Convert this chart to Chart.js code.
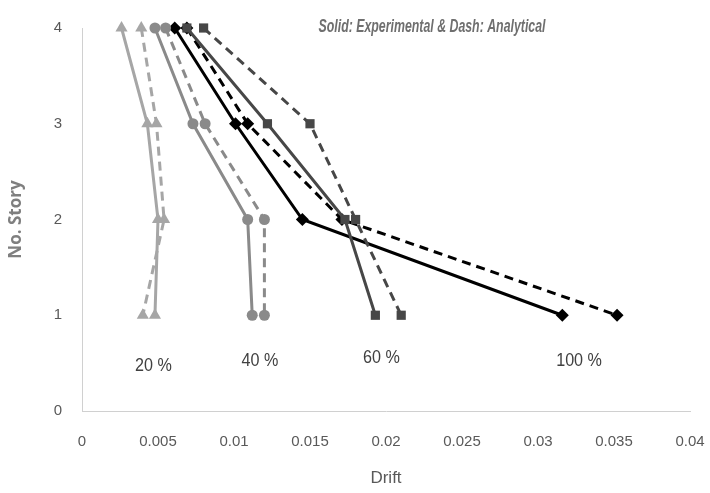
<!doctype html>
<html lang="en">
<head>
<meta charset="utf-8">
<title>Drift vs Story</title>
<script src="https://cdn.jsdelivr.net/npm/chart.js@4.4.0/dist/chart.umd.min.js"></script>
<style>
  html, body { margin: 0; padding: 0; background: #fff; }
  #wrap { width: 710px; height: 493px; }
</style>
</head>
<body>
<div id="wrap"><canvas id="myChart" width="710" height="493"></canvas></div>
<script>
// story levels and drift values
const stories = [4, 3, 2, 1];
const exp20 = [0.0026, 0.0043, 0.0050, 0.0048];
const ana20 = [0.0039, 0.0049, 0.0054, 0.0040];
const exp40 = [0.0048, 0.0073, 0.0109, 0.0112];
const ana40 = [0.0055, 0.0081, 0.0120, 0.0120];
const exp60 = [0.0069, 0.0122, 0.0173, 0.0193];
const ana60 = [0.0080, 0.0150, 0.0180, 0.0210];
const exp100 = [0.0061, 0.0101, 0.0145, 0.0316];
const ana100 = [0.0069, 0.0109, 0.0171, 0.0352];
const xTicks = [0, 0.005, 0.01, 0.015, 0.02, 0.025, 0.03, 0.035, 0.04];
const yTicks = [0, 1, 2, 3, 4];
// label text and where it sits (drift, story)
const levelLabels = ['20 %', '40 %', '60 %', '100 %'];
const labelX = [0.0047, 0.0117, 0.0197, 0.0327];
const labelY = [0.47, 0.52, 0.56, 0.52];
const noteText = 'Solid: Experimental & Dash: Analytical';

const FONT = "'Liberation Sans', sans-serif";

function pts(xs) {
  return xs.map((x, i) => ({ x: x, y: stories[i] }));
}
function series(xs, color, shape, dashed, r) {
  return {
    data: pts(xs),
    showLine: true,
    clip: false,
    borderColor: color,
    backgroundColor: color,
    borderWidth: 3,
    borderDash: dashed ? [9, 6] : [],
    pointStyle: shape,
    pointRadius: r,
    pointBorderWidth: 0,
    pointHoverRadius: r
  };
}

// squeeze a text horizontally
function narrowText(ctx, t, x, y, k) {
  ctx.save();
  ctx.translate(x, y);
  ctx.scale(k, 1);
  ctx.fillText(t, 0, 0);
  ctx.restore();
}

const textPlugin = {
  id: 'texts',
  afterDraw(chart) {
    const ctx = chart.ctx;
    const xs = chart.scales.x, ys = chart.scales.y;
    ctx.save();
    ctx.fillStyle = '#404040';
    ctx.font = "19px " + FONT;
    ctx.textAlign = 'center';
    ctx.textBaseline = 'middle';
    levelLabels.forEach((t, i) => {
      narrowText(ctx, t, xs.getPixelForValue(labelX[i]), ys.getPixelForValue(labelY[i]), 0.85);
    });
    // note at top, squeezed to the width it has in the picture
    ctx.font = "italic bold 19px " + FONT;
    ctx.fillStyle = '#6f6f6f';
    const w = ctx.measureText(noteText).width;
    narrowText(ctx, noteText, 432, 27, 227 / w);
    ctx.restore();
  }
};

new Chart(document.getElementById('myChart'), {
  type: 'scatter',
  data: {
    datasets: [
      series(exp20, '#a6a6a6', 'triangle', false, 7),
      series(ana20, '#a6a6a6', 'triangle', true, 7),
      series(exp40, '#8a8a8a', 'circle', false, 5.5),
      series(ana40, '#8a8a8a', 'circle', true, 5.5),
      series(exp60, '#474747', 'rect', false, 6.5),
      series(ana60, '#474747', 'rect', true, 6.5),
      series(exp100, '#000000', 'rectRot', false, 6.5),
      series(ana100, '#000000', 'rectRot', true, 6.5)
    ]
  },
  options: {
    responsive: false,
    animation: false,
    layout: { padding: { left: 6, right: 20, top: 28, bottom: 4 } },
    plugins: { legend: { display: false }, tooltip: { enabled: false } },
    scales: {
      x: {
        type: 'linear',
        min: 0, max: 0.04,
        afterBuildTicks(s) { s.ticks = xTicks.map(v => ({ value: v })); },
        grid: { display: false, drawTicks: false },
        border: { color: '#d0d0d0', width: 1 },
        ticks: {
          padding: 22,
          color: '#595959',
          font: { size: 15, family: FONT },
          callback: v => String(+v.toFixed(3))
        },
        title: {
          display: true, text: 'Drift', color: '#595959',
          font: { size: 17, family: FONT }, padding: { top: 14, bottom: 0 }
        },
        afterFit(s) { s.height = 78; s.paddingLeft = 0; s.paddingRight = 0; }
      },
      y: {
        type: 'linear',
        min: 0, max: 4,
        afterBuildTicks(s) { s.ticks = yTicks.map(v => ({ value: v })); },
        grid: { display: false, drawTicks: false },
        border: { color: '#d0d0d0', width: 1 },
        ticks: {
          padding: 20,
          color: '#595959',
          font: { size: 15, family: FONT }
        },
        title: {
          display: true, text: 'No. Story', color: '#7f7f7f',
          font: { size: 17, family: "'Open Sans', sans-serif", weight: 'bold' }, padding: { top: 0, bottom: 10 }
        },
        afterFit(s) { s.width = 76; s.paddingTop = 0; s.paddingBottom = 0; }
      }
    }
  },
  plugins: [textPlugin]
});
</script>
</body>
</html>
